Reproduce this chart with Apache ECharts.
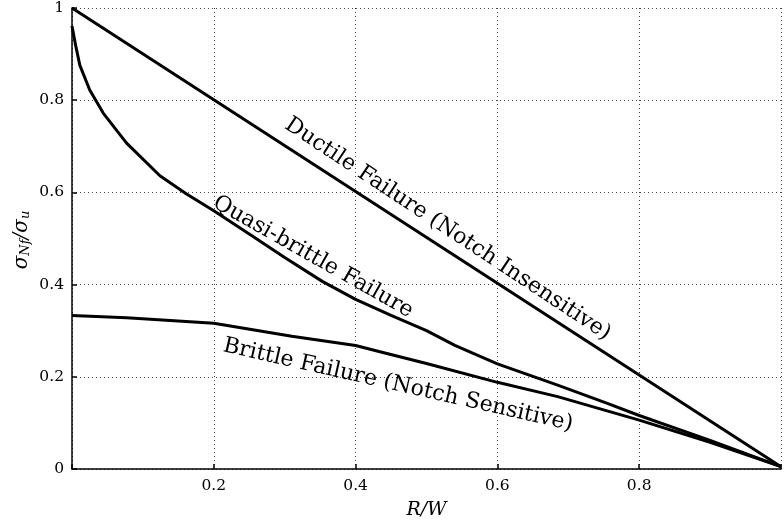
<!DOCTYPE html>
<html><head><meta charset="utf-8">
<script src="https://cdn.jsdelivr.net/npm/echarts@6/dist/echarts.min.js"></script>
<style>html,body{margin:0;padding:0;background:#fff}#c{width:784px;height:525px}</style>
</head><body><div id="c"></div>
<script>
var ductileX = [0, 1];
var ductileY = [1, 0.005];
var quasiX = [0, 0.005, 0.011, 0.025, 0.044, 0.077, 0.124, 0.161, 0.2, 0.25, 0.3, 0.353, 0.4, 0.45, 0.5, 0.54, 0.6, 0.685, 0.756, 0.8, 0.9, 1];
var quasiY = [0.961, 0.92, 0.876, 0.822, 0.772, 0.707, 0.636, 0.597, 0.56, 0.51, 0.459, 0.407, 0.368, 0.333, 0.3, 0.268, 0.228, 0.182, 0.142, 0.116, 0.062, 0.005];
var brittleX = [0, 0.077, 0.2, 0.31, 0.4, 0.433, 0.5, 0.6, 0.685, 0.8, 0.9, 1];
var brittleY = [0.333, 0.328, 0.316, 0.288, 0.268, 0.255, 0.229, 0.188, 0.157, 0.106, 0.058, 0.005];
var labels = [
  {text: 'Ductile Failure (Notch Insensitive)', x: 0.53, y: 0.52, rot: -33.5},
  {text: 'Quasi-brittle Failure', x: 0.34, y: 0.46, rot: -29.5},
  {text: 'Brittle Failure (Notch Sensitive)', x: 0.46, y: 0.182, rot: -12.8}
];
var xLabel = 'R/W';
var serif = 'DejaVu Serif';

function pairs(xs, ys){ return xs.map(function(x,i){ return [x, ys[i]]; }); }

var chart = echarts.init(document.getElementById('c'), null, {renderer: 'canvas'});
var lineStyle = {color: '#000', width: 3};
chart.setOption({
  animation: false,
  backgroundColor: '#fff',
  grid: {left: 72, right: 0, top: 7, bottom: 52},
  xAxis: {
    type: 'value', min: 0, max: 1, interval: 0.2,
    name: xLabel, nameLocation: 'middle', nameGap: 32,
    nameTextStyle: {fontFamily: serif, fontStyle: 'italic', fontSize: 19, color: '#000'},
    axisLine: {show: true, lineStyle: {color: '#000', width: 1.5}},
    axisTick: {show: true, inside: true, length: 5, lineStyle: {color: '#000', width: 1.5}},
    axisLabel: {fontFamily: serif, fontSize: 15.5, color: '#000', margin: 9,
      formatter: function(v){ return (v === 0 || v === 1) ? '' : String(+v.toFixed(1)); }},
    splitLine: {show: true, lineStyle: {color: '#444', width: 1, type: [1, 3]}}
  },
  yAxis: {
    type: 'value', min: 0, max: 1, interval: 0.2,
    axisLine: {show: true, lineStyle: {color: '#000', width: 1.5}},
    axisTick: {show: true, inside: true, length: 5, lineStyle: {color: '#000', width: 1.5}},
    axisLabel: {fontFamily: serif, fontSize: 15.5, color: '#000', margin: 8,
      formatter: function(v){ return String(+v.toFixed(1)); }},
    splitLine: {show: true, lineStyle: {color: '#444', width: 1, type: [1, 3]}}
  },
  series: [
    {type: 'line', data: pairs(ductileX, ductileY), showSymbol: false, lineStyle: lineStyle, z: 3},
    {type: 'line', data: pairs(quasiX, quasiY), showSymbol: false, lineStyle: lineStyle, z: 3},
    {type: 'line', data: pairs(brittleX, brittleY), showSymbol: false, lineStyle: lineStyle, z: 3}
  ]
});

var g = labels.map(function(l){
  var p = chart.convertToPixel({gridIndex: 0}, [l.x, l.y]);
  return {
    type: 'text', x: p[0], y: p[1], rotation: l.rot * Math.PI / 180,
    style: {text: l.text, fill: '#000', font: '22px "' + serif + '"', align: 'center', verticalAlign: 'middle'}
  };
});
g.push({
  type: 'text', x: 22, y: 240, rotation: Math.PI / 2,
  style: {
    text: '{a|σ}{s|Nf}{a|/σ}{s|u}',
    align: 'center', verticalAlign: 'middle',
    rich: {
      a: {fontFamily: serif, fontStyle: 'italic', fontSize: 20, fill: '#000', verticalAlign: 'middle'},
      s: {fontFamily: serif, fontStyle: 'italic', fontSize: 13, fill: '#000', verticalAlign: 'bottom', padding: [7, 0, 0, 0]}
    }
  }
});
chart.setOption({graphic: g});
</script>
</body></html>
